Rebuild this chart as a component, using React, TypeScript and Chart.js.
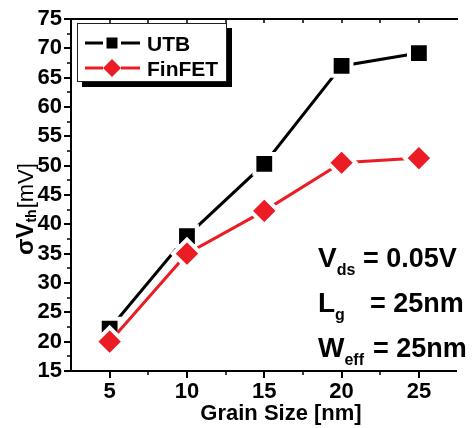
import React, { useEffect, useRef } from "react";
import { Chart, registerables } from "chart.js";

Chart.register(...registerables);

// ---- data ----
const grainSizes = [5, 10, 15, 20, 25];
const utbValues = [22.2, 38.0, 50.3, 67.0, 69.2];
const finfetValues = [20.0, 35.0, 42.3, 50.5, 51.3];
const seriesNames = ["UTB", "FinFET"];

const xMajorTicks = [5, 10, 15, 20, 25];
const xMinorTicks = [7.5, 12.5, 17.5, 22.5];
const yMajorTicks = [15, 20, 25, 30, 35, 40, 45, 50, 55, 60, 65, 70, 75];
const yMinorTicks = [17.5, 22.5, 27.5, 32.5, 37.5, 42.5, 47.5, 52.5, 57.5, 62.5, 67.5, 72.5];

const xTitle = "Grain Size [nm]";
const yTitleMain = "σV";
const yTitleSub = "th";
const yTitleUnit = "[mV]";

const annotationMains = ["V", "L", "W"];
const annotationSubs = ["ds", "g", "eff"];
const annotationRests = ["= 0.05V", "= 25nm", "= 25nm"];

const FONT = '"Liberation Sans", Arial, Helvetica, sans-serif';
const RED = "#ec1c24";
const BLACK = "#000000";

export default function App() {
  const ref = useRef<HTMLCanvasElement | null>(null);

  useEffect(() => {
    const canvas = ref.current;
    if (!canvas) return;

    const decor = {
      id: "decor",
      afterDraw(chart: any) {
        const { ctx, chartArea: a, scales } = chart;
        const xs = scales.x;
        const ys = scales.y;
        ctx.save();
        ctx.strokeStyle = BLACK;
        ctx.fillStyle = BLACK;

        // top frame line
        ctx.lineWidth = 2;
        ctx.beginPath();
        ctx.moveTo(a.left - 1, a.top);
        ctx.lineTo(a.right + 2, a.top);
        ctx.stroke();

        const tick = (x1: number, y1: number, x2: number, y2: number, w: number) => {
          ctx.lineWidth = w;
          ctx.beginPath();
          ctx.moveTo(x1, y1);
          ctx.lineTo(x2, y2);
          ctx.stroke();
        };
        xMajorTicks.forEach((v) => {
          const px = Math.round(xs.getPixelForValue(v));
          tick(px, a.bottom, px, a.bottom + 7, 2);
          tick(px, a.top, px, a.top + 4, 1.5);
        });
        xMinorTicks.forEach((v) => {
          const px = Math.round(xs.getPixelForValue(v));
          tick(px, a.bottom, px, a.bottom + 4, 1.5);
          tick(px, a.top, px, a.top + 4, 1.5);
        });
        yMajorTicks.forEach((v) => {
          const py = Math.round(ys.getPixelForValue(v));
          tick(a.left, py, a.left - 7, py, 2);
        });
        yMinorTicks.forEach((v) => {
          const py = Math.round(ys.getPixelForValue(v));
          tick(a.left, py, a.left - 4, py, 1.5);
        });

        // y title (rotated)
        ctx.save();
        ctx.translate(33, 255);
        ctx.rotate(-Math.PI / 2);
        ctx.textAlign = "left";
        ctx.textBaseline = "alphabetic";
        ctx.font = `bold 24px ${FONT}`;
        ctx.fillText(yTitleMain, 0, 0);
        let w = ctx.measureText(yTitleMain).width;
        ctx.font = `bold 14px ${FONT}`;
        ctx.fillText(yTitleSub, w, 3);
        w += ctx.measureText(yTitleSub).width + 1;
        ctx.font = `22px ${FONT}`;
        ctx.fillText(yTitleUnit, w, 0);
        ctx.restore();

        // x title
        ctx.font = `bold 22px ${FONT}`;
        ctx.textAlign = "center";
        ctx.textBaseline = "alphabetic";
        ctx.fillText(xTitle, 281, 420);

        // legend
        const lx = 77, ly = 23, lw = 150, lh = 59;
        ctx.fillStyle = BLACK;
        ctx.fillRect(lx + 5, ly + 5, lw, lh);
        ctx.fillStyle = "#ffffff";
        ctx.fillRect(lx, ly, lw, lh);
        ctx.lineWidth = 1;
        ctx.strokeStyle = "#222";
        ctx.strokeRect(lx + 0.5, ly + 0.5, lw - 1, lh - 1);

        const rows = [
          { y: 43, color: BLACK, style: "rect" },
          { y: 68, color: RED, style: "diamond" },
        ];
        rows.forEach((r, i) => {
          ctx.strokeStyle = r.color;
          ctx.lineWidth = 3;
          ctx.beginPath();
          ctx.moveTo(85, r.y);
          ctx.lineTo(103, r.y);
          ctx.moveTo(121, r.y);
          ctx.lineTo(140, r.y);
          ctx.stroke();
          ctx.fillStyle = r.color;
          if (r.style === "rect") {
            ctx.fillRect(112 - 5.5, r.y - 5.5, 11, 11);
          } else {
            ctx.beginPath();
            ctx.moveTo(112, r.y - 9);
            ctx.lineTo(121, r.y);
            ctx.lineTo(112, r.y + 9);
            ctx.lineTo(103, r.y);
            ctx.closePath();
            ctx.fill();
          }
          ctx.fillStyle = BLACK;
          ctx.font = `bold 21px ${FONT}`;
          ctx.textAlign = "left";
          ctx.textBaseline = "alphabetic";
          ctx.fillText(seriesNames[i], 147, r.y + 8);
        });

        // annotations
        const baselines = [267, 312, 357];
        const restStarts = [363, 370, 373];
        annotationMains.forEach((m, i) => {
          const bx = 318;
          const by = baselines[i];
          ctx.fillStyle = BLACK;
          ctx.textAlign = "left";
          ctx.font = `bold 28px ${FONT}`;
          ctx.fillText(m, bx, by);
          const ww = ctx.measureText(m).width;
          ctx.font = `bold 16px ${FONT}`;
          ctx.fillText(annotationSubs[i], bx + ww, by + 8);
          ctx.font = `bold 27px ${FONT}`;
          ctx.fillText(annotationRests[i], restStarts[i], by);
        });

        ctx.restore();
      },
    };

    const chart = new Chart(canvas, {
      type: "line",
      data: {
        datasets: [
          {
            label: seriesNames[0],
            data: grainSizes.map((x, i) => ({ x, y: utbValues[i] })),
            borderColor: BLACK,
            backgroundColor: BLACK,
            borderWidth: 3,
            pointStyle: "rect",
            pointRadius: 14,
            pointBackgroundColor: BLACK,
            pointBorderColor: "#ffffff",
            pointBorderWidth: 4,
            order: 1,
          },
          {
            label: seriesNames[1],
            data: grainSizes.map((x, i) => ({ x, y: finfetValues[i] })),
            borderColor: RED,
            backgroundColor: RED,
            borderWidth: 3,
            pointStyle: "rectRot",
            pointRadius: 14,
            pointBackgroundColor: RED,
            pointBorderColor: "#ffffff",
            pointBorderWidth: 4,
            order: 0,
          },
        ],
      },
      options: {
        animation: false,
        responsive: false,
        events: [],
        layout: { padding: { left: 0, top: 19, right: 0, bottom: 0 } },
        plugins: {
          legend: { display: false },
          tooltip: { enabled: false },
        },
        scales: {
          x: {
            type: "linear",
            min: 2.5,
            max: 27.4,
            afterBuildTicks: (scale: any) => {
              scale.ticks = xMajorTicks.map((v) => ({ value: v }));
            },
            afterFit: (scale: any) => {
              scale.height = 57;
            },
            ticks: {
              color: BLACK,
              font: { family: FONT, size: 22, weight: "bold" },
              padding: 2,
              maxRotation: 0,
              autoSkip: false,
              callback: (v: any) => String(v),
            },
            grid: { display: false, drawTicks: true, tickLength: 6 },
            border: { display: true, color: BLACK, width: 2 },
          },
          y: {
            type: "linear",
            min: 15,
            max: 75,
            afterBuildTicks: (scale: any) => {
              scale.ticks = yMajorTicks.map((v) => ({ value: v }));
            },
            afterFit: (scale: any) => {
              scale.width = 71;
            },
            ticks: {
              color: BLACK,
              font: { family: FONT, size: 22, weight: "bold" },
              padding: 3,
              autoSkip: false,
              callback: (v: any) => String(v),
            },
            grid: { display: false, drawTicks: true, tickLength: 6 },
            border: { display: true, color: BLACK, width: 2 },
          },
        },
      },
      plugins: [decor],
    } as any);

    return () => {
      chart.destroy();
    };
  }, []);

  return (
    <div style={{ position: "absolute", left: 0, top: 0, width: 474, height: 428, background: "#fff" }}>
      <canvas ref={ref} width={474} height={428} />
    </div>
  );
}
